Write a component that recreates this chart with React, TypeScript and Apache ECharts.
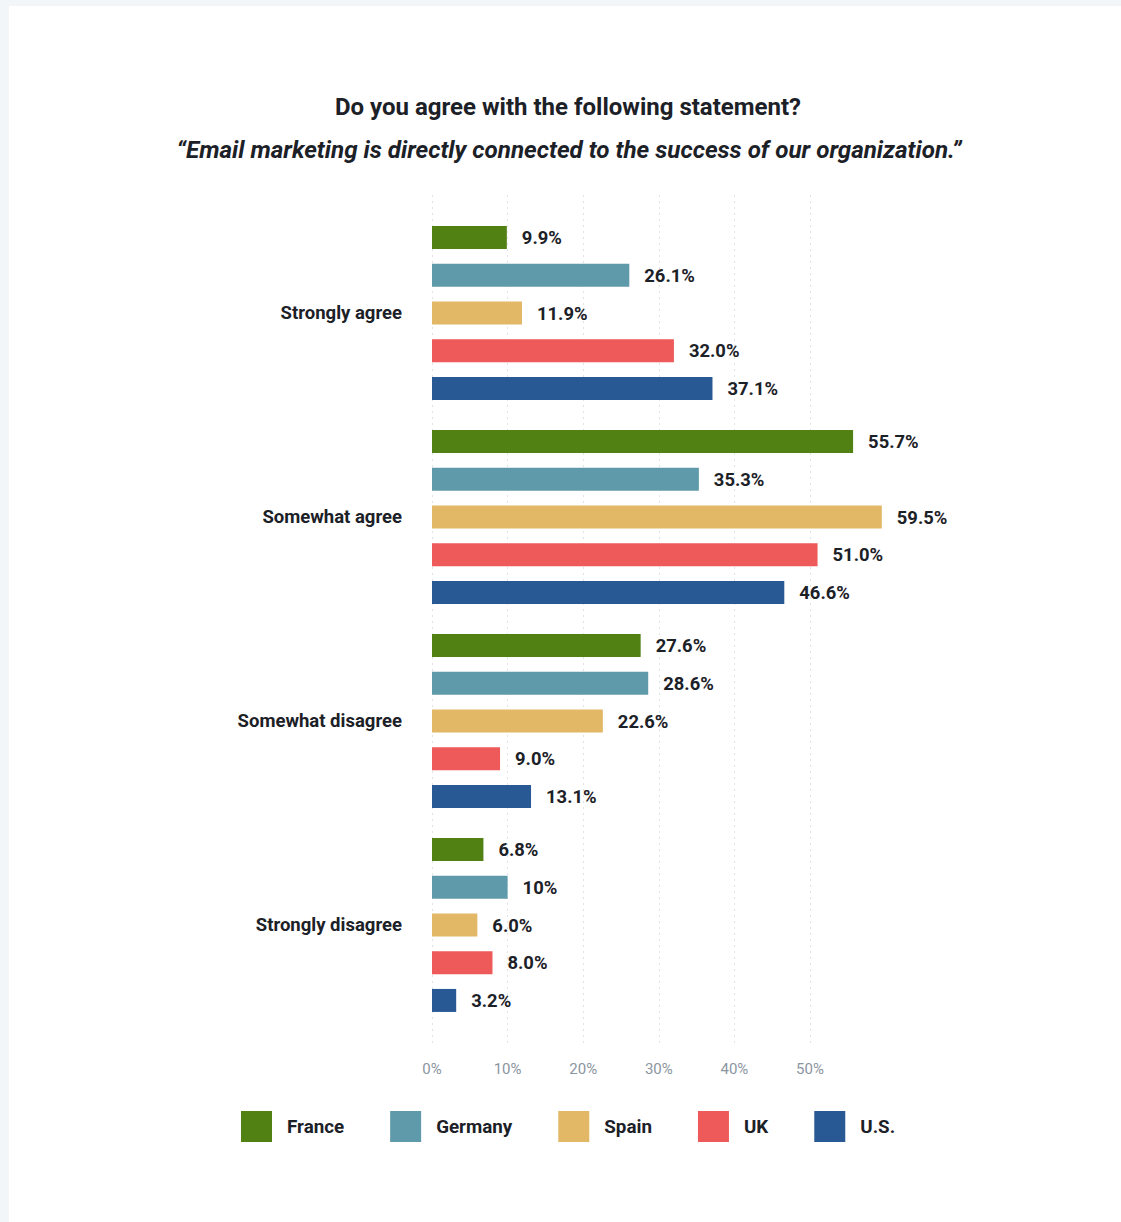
import React, { useEffect, useRef } from "react";
import * as echarts from "echarts";

const categories = ["Strongly agree", "Somewhat agree", "Somewhat disagree", "Strongly disagree"];
const seriesNames = ["France", "Germany", "Spain", "UK", "U.S."];
const france = [9.9, 55.7, 27.6, 6.8];
const germany = [26.1, 35.3, 28.6, 10];
const spain = [11.9, 59.5, 22.6, 6.0];
const uk = [32.0, 51.0, 9.0, 8.0];
const us = [37.1, 46.6, 13.1, 3.2];
const colors = ["#518113", "#5f9aab", "#e2b866", "#ee5a5a", "#285994"];
const tickValues = [0, 10, 20, 30, 40, 50];

const FONT = "Roboto, 'Noto Sans', sans-serif";
const DARK = "#1c2127";

const fmt = (v: number) => (v === 10 ? "10%" : v.toFixed(1) + "%");

export default function App() {
  const ref = useRef<HTMLDivElement>(null);
  useEffect(() => {
    const chart = echarts.init(ref.current!, undefined, { renderer: "svg" });
    const data = [france, germany, spain, uk, us];
    chart.setOption({
      animation: false,
      textStyle: { fontFamily: FONT },
      graphic: [
        {
          type: "text",
          x: 559,
          y: 101,
          style: {
            text: "Do you agree with the following statement?",
            fontFamily: FONT,
            fontSize: 24,
            fontWeight: "bold",
            fill: DARK,
            textAlign: "center",
            textVerticalAlign: "middle",
          },
        },
        {
          type: "text",
          x: 560,
          y: 144,
          style: {
            text: "\u201CEmail marketing is directly connected to the success of our organization.\u201D",
            fontFamily: FONT,
            fontSize: 24.2,
            fontWeight: "bold",
            fontStyle: "italic",
            fill: DARK,
            textAlign: "center",
            textVerticalAlign: "middle",
          },
        },
      ],
      legend: {
        data: seriesNames,
        left: 227,
        top: 1100,
        itemWidth: 31,
        itemHeight: 31,
        itemGap: 46,
        icon: "rect",
        textStyle: { fontFamily: FONT, fontSize: 18.8, fontWeight: "bold", color: DARK, padding: [0, 0, 0, 10] },
      },
      grid: [
        { left: 423, top: 205, width: 453.6, height: 816 },
        { left: 423, top: 189, width: 453.6, height: 848 },
      ],
      xAxis: [
        { type: "value", gridIndex: 0, min: 0, max: 60, interval: 10, show: false },
        {
          type: "value",
          gridIndex: 1,
          min: 0,
          max: 60,
          interval: 10,
          axisLine: { show: false },
          axisTick: { show: false },
          axisLabel: {
            showMaxLabel: false,
            formatter: (v: number) => (tickValues.includes(v) ? v + "%" : ""),
            color: "#8b95a1",
            fontSize: 15,
            fontFamily: FONT,
            margin: 18,
          },
          splitLine: {
            show: true,
            showMaxLine: false,
            lineStyle: { color: "#dfe3e7", type: [2, 4], width: 1 },
          },
        },
      ],
      yAxis: [
        {
          type: "category",
          gridIndex: 0,
          data: categories,
          inverse: true,
          axisLine: { show: false },
          axisTick: { show: false },
          axisLabel: { fontFamily: FONT, fontSize: 18.5, fontWeight: "bold", color: DARK, margin: 30 },
        },
        { type: "value", gridIndex: 1, min: 0, max: 1, show: false },
      ],
      series: seriesNames.map((name, i) => ({
        name,
        type: "bar",
        xAxisIndex: 0,
        yAxisIndex: 0,
        data: data[i],
        barWidth: 23,
        barGap: "64%",
        itemStyle: { color: colors[i] },
        label: {
          show: true,
          position: "right",
          distance: 15,
          formatter: (p: any) => fmt(p.value),
          fontFamily: FONT,
          fontSize: 18.4,
          fontWeight: "bold",
          color: DARK,
        },
      })),
    });
    return () => chart.dispose();
  }, []);
  return (
    <div style={{ position: "absolute", left: 0, top: 0, width: 1121, height: 1222, background: "#f3f6f9" }}>
      <div
        ref={ref}
        style={{ position: "absolute", left: 9, top: 6, width: 1112, height: 1216, background: "#ffffff" }}
      />
    </div>
  );
}
